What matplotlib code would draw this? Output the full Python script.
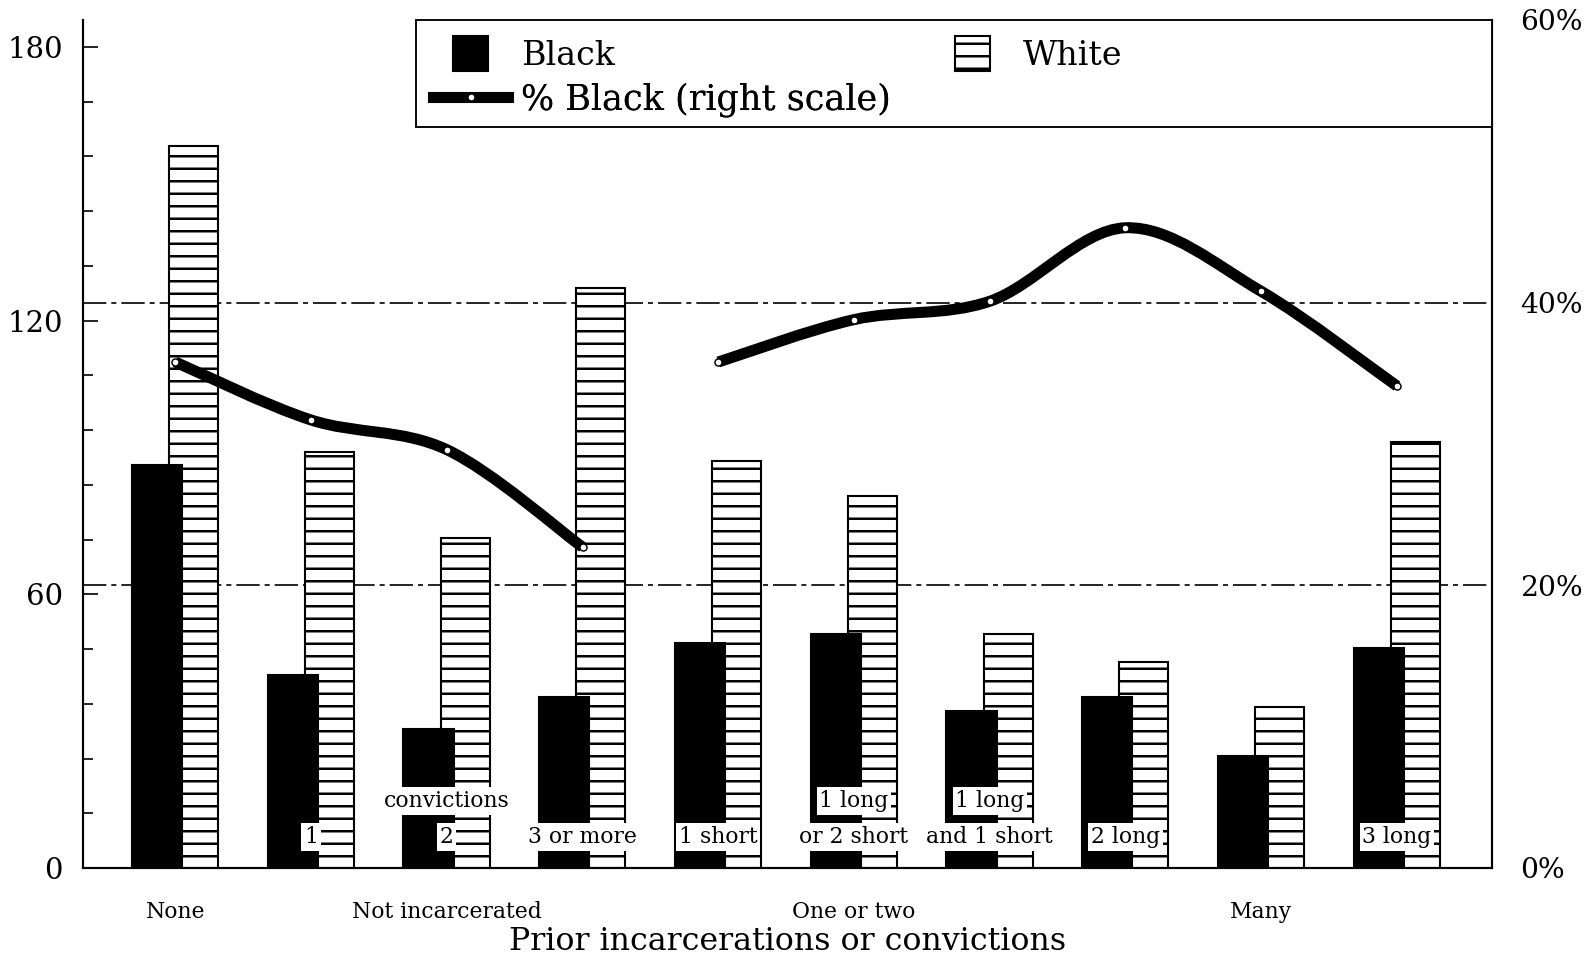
import matplotlib
matplotlib.use('Agg')
import matplotlib.pyplot as plt
import matplotlib.transforms as mtransforms
import numpy as np
from matplotlib.path import Path
from matplotlib.patches import PathPatch, Rectangle, Patch
from matplotlib.legend_handler import HandlerPatch
from matplotlib.lines import Line2D
from matplotlib.ticker import MultipleLocator

plt.rcParams['font.family'] = 'DejaVu Serif'
plt.rcParams['hatch.linewidth'] = 1.2

# counts (left scale)
black = [88.4, 42.3, 30.5, 37.4, 49.4, 51.4, 34.5, 37.4, 24.5, 48.3]
white = [158.3, 91.3, 72.4, 127.2, 89.3, 81.5, 51.4, 45.2, 35.4, 93.3]
# % Black (right scale), two separate curves
pct_black = [35.8, 31.7, 29.6, 22.7, 35.8, 38.8, 40.1, 45.3, 40.8, 34.1]
curve_groups = [[0, 1, 2, 3], [4, 5, 6, 7, 8, 9]]

# labels written on the bars
label_upper = ['', '', 'convictions', '', '', '1 long', '1 long', '', '', '']
label_lower = ['', '1', '2', '3 or more', '1 short', 'or 2 short', 'and 1 short',
               '2 long', '', '3 long']
group_names = ['None', 'Not incarcerated', 'One or two', 'Many']
group_at = [0, 2, 5, 8]

left_ticks = [0, 60, 120, 180]
right_ticks = [0, 20, 40, 60]
right_labels = ['0%', '20%', '40%', '60%']

W, H = 1592, 957
fig = plt.figure(figsize=(W / 150, H / 150), dpi=150)
ax = fig.add_axes([83 / W, 1 - 868 / H, (1492 - 83) / W, (868 - 20) / H])
ax2 = ax.twinx()

x = np.arange(len(black))
ax.bar(x + 0.135, white, 0.36, color='white', edgecolor='black', hatch='--',
       lw=1.0, zorder=2)
ax.bar(x - 0.135, black, 0.37, color='black', edgecolor='black', lw=1.0, zorder=3)

ax.set_xlim(-0.68, 9.70)
ax.set_ylim(0, 180 * 848 / 821)
ax2.set_ylim(0, 60)

# grid lines on the right scale, behind the bars
gtrans = mtransforms.blended_transform_factory(ax.transAxes, ax2.transData)
for g in [20, 40]:
    ax.plot([0, 1], [g, g], transform=gtrans, color='black', lw=0.8,
            ls=(0, (14, 3, 3, 3)), zorder=1)

# smooth % black curves
def smooth_path(xs, ys):
    pts = np.column_stack([xs, ys])
    ext = np.vstack([pts[0], pts, pts[-1]])
    verts = [pts[0]]
    codes = [Path.MOVETO]
    for i in range(len(pts) - 1):
        p0, p1, p2, p3 = ext[i], ext[i + 1], ext[i + 2], ext[i + 3]
        verts += [p1 + (p2 - p0) / 6, p2 - (p3 - p1) / 6, p2]
        codes += [Path.CURVE4] * 3
    return Path(verts, codes)

for idx in curve_groups:
    xs = x[idx]
    ys = np.array(pct_black)[idx]
    ax2.add_patch(PathPatch(smooth_path(xs, ys), fill=False, lw=5.3,
                            edgecolor='black', capstyle='butt', zorder=4))
    ax2.plot(xs, ys, 'o', ms=3.4, mfc='white', mec='black', mew=0.7, zorder=5)

# labels on the bars
box = dict(boxstyle='square,pad=0.12', fc='white', ec='none')
for i in x:
    if label_upper[i]:
        ax.text(i, 14.7, label_upper[i], ha='center', va='center', fontsize=10.5,
                bbox=box, zorder=6)
    if label_lower[i]:
        ax.text(i, 6.8, label_lower[i], ha='center', va='center', fontsize=10.5,
                bbox=box, zorder=6)

btrans = mtransforms.blended_transform_factory(ax.transData, ax.transAxes)
for name, pos in zip(group_names, group_at):
    ax.text(pos, -0.052, name, ha='center', va='center', fontsize=10.5,
            transform=btrans)
ax.text(0.5, -0.087, 'Prior incarcerations or convictions', ha='center',
        va='center', fontsize=15.2, transform=ax.transAxes)

# axes styling
for a in (ax, ax2):
    a.spines['top'].set_visible(False)
    for s in ['left', 'right', 'bottom']:
        a.spines[s].set_linewidth(1.0)
ax.set_yticks(left_ticks)
ax.yaxis.set_minor_locator(MultipleLocator(12))
ax.tick_params(axis='y', which='major', direction='in', length=7, width=0.8,
               labelsize=14, pad=9.6)
ax.tick_params(axis='y', which='minor', direction='in', length=5, width=0.8)
ax.tick_params(axis='x', bottom=False, labelbottom=False)
ax2.set_yticks(right_ticks, right_labels)
ax2.tick_params(axis='y', length=0, labelsize=13.5, pad=13.4)

# legend box
ax2.add_patch(Rectangle(((416 - 83) / 1409, (868 - 127) / 848), (1492 - 416) / 1409,
                        (127 - 20) / 848, transform=ax2.transAxes, fc='white',
                        ec='black', lw=0.9, zorder=10, clip_on=False))

def square(legend, orig_handle, xdescent, ydescent, width, height, fontsize):
    s = 1.5 * height
    return Rectangle((-xdescent + width / 2 - s / 2, -ydescent + height / 2 - s / 2), s, s)

hmap = {Patch: HandlerPatch(patch_func=square)}
black_h = Patch(facecolor='black', edgecolor='black')
white_h = Patch(facecolor='white', edgecolor='black', hatch='--')
line_h = Line2D([], [], color='black', lw=5.3, marker='o', ms=3.4, mfc='white',
                mec='black', mew=0.7)

entries = [(black_h, 'Black', 433, 56, 16), (white_h, 'White', 935, 56, 16),
           (line_h, '% Black (right scale)', 433, 99.5, 16.8)]
for h, lab, px, py, fs in entries:
    leg = ax2.legend([h], [lab], loc='center left', bbox_to_anchor=(px / W, 1 - py / H),
                     bbox_transform=fig.transFigure, frameon=False, fontsize=fs,
                     handlelength=2.25 * 16 / fs, handletextpad=0.4 * 16 / fs,
                     borderpad=0, borderaxespad=0, handler_map=hmap)
    leg.set_zorder(11)
    ax2.add_artist(leg)

fig.savefig('out.png', dpi=150)
